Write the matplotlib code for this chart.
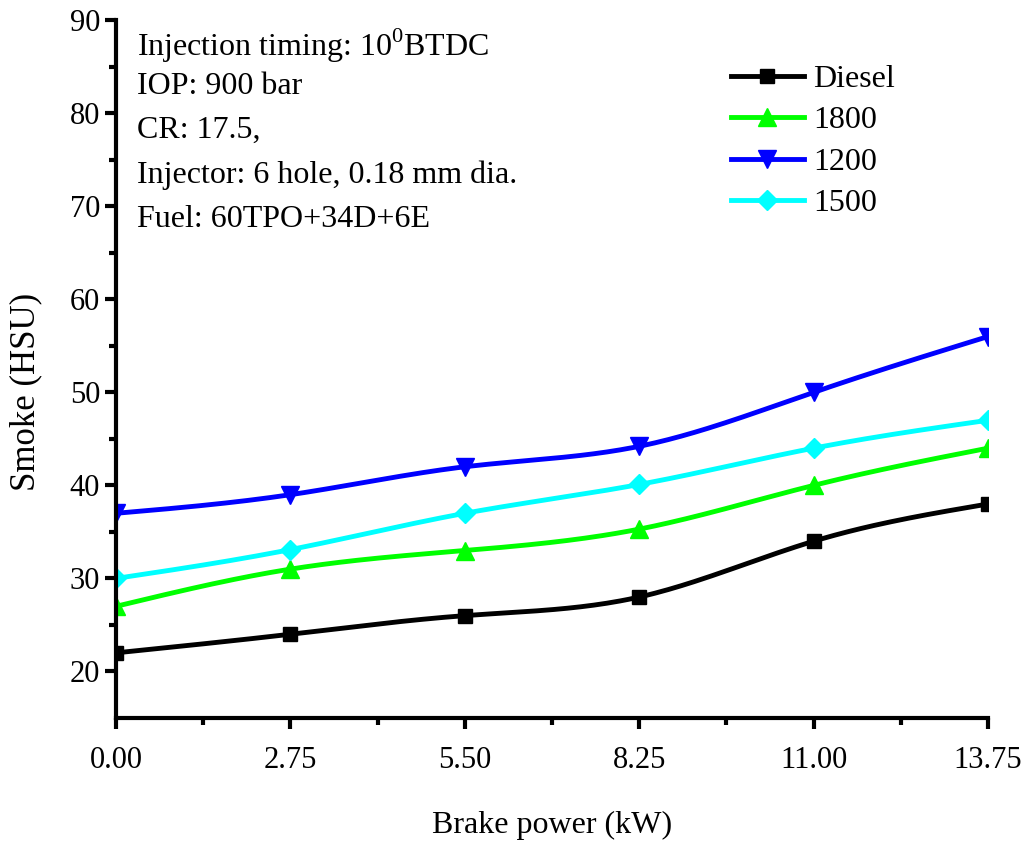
import numpy as np
import matplotlib
matplotlib.use('Agg')
import matplotlib.pyplot as plt

plt.rcParams['font.family'] = 'Liberation Serif'
plt.rcParams['mathtext.fontset'] = 'custom'
plt.rcParams['mathtext.rm'] = 'Liberation Serif'

power = [0.00, 2.75, 5.50, 8.25, 11.00, 13.75]
diesel = [22, 24, 26, 28, 34, 38]
s1800 = [27, 31, 33, 35.3, 40, 44]
s1200 = [37, 39, 42, 44.2, 50, 56]
s1500 = [30, 33.1, 37, 40.1, 44, 47]
tick_labels = ['0.00', '2.75', '5.50', '8.25', '11.00', '13.75']


def spline(x, y, n=200):
    # natural cubic spline, only used to draw the smooth line
    x = np.asarray(x, float); y = np.asarray(y, float)
    k = len(x); h = np.diff(x)
    A = np.zeros((k, k)); b = np.zeros(k)
    A[0, 0] = A[-1, -1] = 1
    for i in range(1, k - 1):
        A[i, i - 1] = h[i - 1]; A[i, i] = 2 * (h[i - 1] + h[i]); A[i, i + 1] = h[i]
        b[i] = 6 * ((y[i + 1] - y[i]) / h[i] - (y[i] - y[i - 1]) / h[i - 1])
    m = np.linalg.solve(A, b)
    xs = np.linspace(x[0], x[-1], n)
    idx = np.clip(np.searchsorted(x, xs) - 1, 0, k - 2)
    t0 = x[idx]; t1 = x[idx + 1]; hh = t1 - t0
    ys = (m[idx] * (t1 - xs) ** 3 / (6 * hh) + m[idx + 1] * (xs - t0) ** 3 / (6 * hh)
          + (y[idx] / hh - m[idx] * hh / 6) * (t1 - xs)
          + (y[idx + 1] / hh - m[idx + 1] * hh / 6) * (xs - t0))
    return xs, ys


fig = plt.figure(figsize=(10.33, 8.42), dpi=100)
ax = fig.add_axes([0.1123, 0.1473, 0.8442, 0.8287])

series = [(diesel, 'black', 's', 'Diesel', 10),
          (s1800, '#00ff00', '^', '1800', 13),
          (s1200, '#0000ff', 'v', '1200', 13),
          (s1500, '#00ffff', 'D', '1500', 10)]
for vals, c, m, lab, ms in series:
    xs, ys = spline(power, vals)
    ax.plot(xs, ys, color=c, lw=3.5)
    ax.plot(power, vals, ls='none', marker=m, color=c, ms=ms)
    ax.plot([], [], color=c, lw=3.5, marker=m, ms=ms, label=lab)

ax.set_xlim(0, 13.75)
ax.set_ylim(15, 90)
ax.set_xticks(power)
ax.set_xticklabels(tick_labels)
ax.set_xticks(np.arange(1.375, 13.75, 2.75), minor=True)
ax.set_yticks(range(20, 91, 10))
ax.set_yticks(range(25, 90, 10), minor=True)
ax.tick_params(which='major', direction='out', length=8, width=3, labelsize=22)
ax.tick_params(axis='x', which='major', pad=12)
ax.tick_params(which='minor', direction='out', length=5, width=3)
ax.spines['top'].set_visible(False)
ax.spines['right'].set_visible(False)
ax.spines['left'].set_linewidth(3)
ax.spines['bottom'].set_linewidth(3)

ax.set_xlabel('Brake power (kW)', fontsize=23, labelpad=26)
ax.set_ylabel('Smoke (HSU)', fontsize=25)
ax.yaxis.set_label_coords(-0.085, 0.467)

notes = [r'Injection timing: 10$^{0}$BTDC', 'IOP: 900 bar', 'CR: 17.5,',
         'Injector: 6 hole, 0.18 mm dia.', 'Fuel: 60TPO+34D+6E']
for i, t in enumerate(notes):
    ax.text(0.024, 0.99 - i * 0.0638, t, transform=ax.transAxes, fontsize=23,
            va='top', ha='left')

ax.legend(loc='upper left', bbox_to_anchor=(0.69, 0.955), frameon=False,
          fontsize=23, handlelength=2.3, labelspacing=0.38, handletextpad=0.3,
          borderaxespad=0)

fig.savefig('out.png', dpi=100)
